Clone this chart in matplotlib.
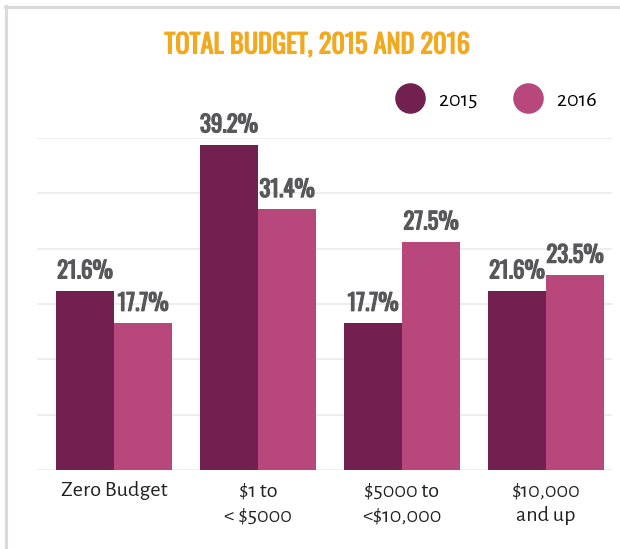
import matplotlib
matplotlib.use("Agg")
import matplotlib.pyplot as plt
import matplotlib.patheffects as pe
from matplotlib.lines import Line2D
import numpy as np

categories = ["Zero Budget", "$1 to\n< $5000", "$5000 to\n<$10,000", "$10,000\nand up"]
vals_2015 = [21.6, 39.2, 17.7, 21.6]
vals_2016 = [17.7, 31.4, 27.5, 23.5]
series = ["2015", "2016"]

C15 = "#722050"
C16 = "#B8487C"
LABEL_C = "#58585A"
TITLE_C = "#F2A91F"
GRID_C = "#EBEBEB"
COND = ["Oswald", "DejaVu Sans"]
HUM = ["Alegreya Sans", "DejaVu Sans"]

fig = plt.figure(figsize=(6.2, 5.49), dpi=100)
ax = fig.add_axes([37/620, 79/549, (612-37)/620, (411-79)/549])

x = np.arange(len(categories))
w = 0.403
b1 = ax.bar(x - w/2, vals_2015, w, color=C15, zorder=3)
b2 = ax.bar(x + w/2, vals_2016, w, color=C16, zorder=3)

# fake a bolder weight with a thin stroke of the same colour
bold_lbl = [pe.withStroke(linewidth=0.9, foreground=LABEL_C)]
for bars, vals in ((b1, vals_2015), (b2, vals_2016)):
  for r, v in zip(bars, vals):
    ax.annotate(f"{v}%", (r.get_x() + r.get_width()/2, v), xytext=(0, 6),
                textcoords="offset points", ha="center", va="bottom",
                fontsize=16.5, color=LABEL_C, family=COND, path_effects=bold_lbl)

ax.set_xlim(-0.535, 3.458)
ax.set_ylim(0, 40)
ax.set_yticks(np.linspace(0, 40, 7))
ax.yaxis.grid(True, color=GRID_C, lw=1.2, zorder=0)
ax.tick_params(axis="y", length=0, labelleft=False)
ax.set_xticks(x, categories, fontsize=16, color="#222222", family=HUM, linespacing=1.4)
ax.tick_params(axis="x", length=0, pad=8)
for s in ax.spines.values():
  s.set_visible(False)

fig.text(317/620, 1 - 45/549, "TOTAL BUDGET, 2015 AND 2016", ha="center", va="center",
         fontsize=19, color=TITLE_C, family=COND,
         path_effects=[pe.withStroke(linewidth=0.8, foreground=TITLE_C)])

handles = [Line2D([], [], marker="o", ls="", color=c, markersize=21) for c in (C15, C16)]
ax.legend(handles, series, loc="center right", bbox_to_anchor=(597/620, 1 - 100/549),
          bbox_transform=fig.transFigure, ncol=2, frameon=False, borderpad=0, borderaxespad=0,
          handletextpad=0.3, columnspacing=1.3, prop={"family": HUM, "size": 16})

# frame lines on top and left
fig.add_artist(Line2D([5/620, 1], [1 - 7/549]*2, color="#DADADA", lw=2.2, transform=fig.transFigure))
fig.add_artist(Line2D([6/620]*2, [0, 1 - 6/549], color="#DADADA", lw=2.2, transform=fig.transFigure))

fig.savefig("out.png", dpi=100)
